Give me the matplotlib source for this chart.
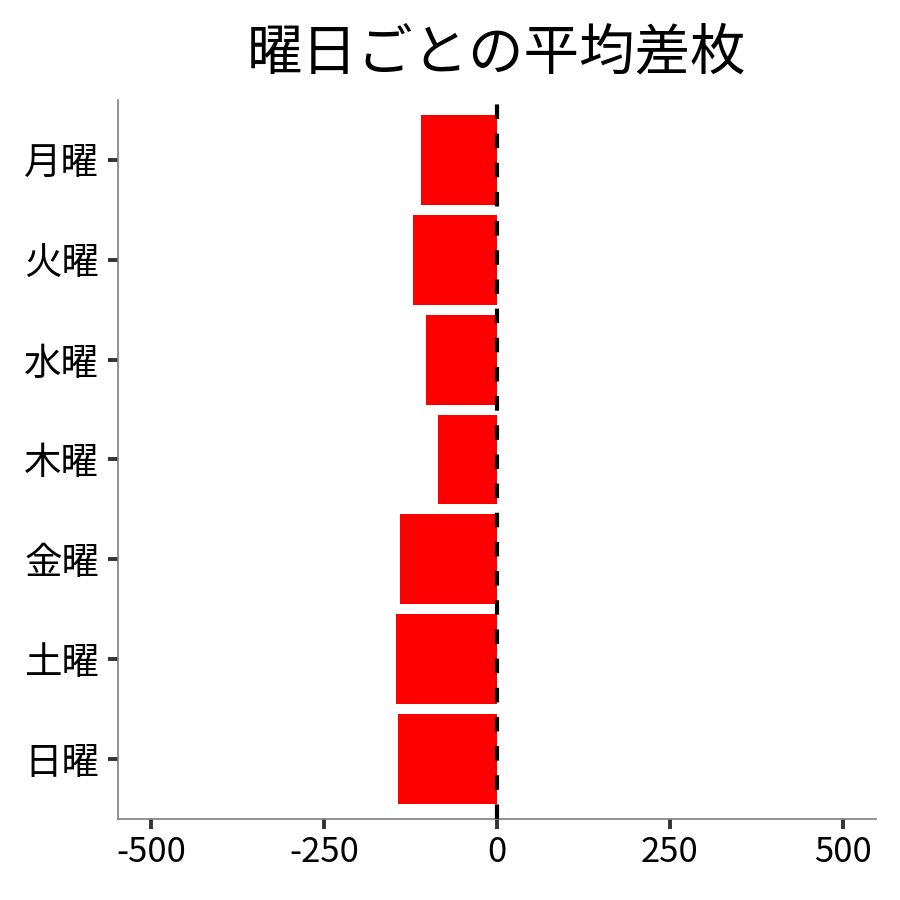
import numpy as np
import matplotlib
matplotlib.use("Agg")
import matplotlib.pyplot as plt

plt.rcParams['font.family'] = ['Noto Sans CJK JP', 'DejaVu Sans']

# data
days = ["月曜", "火曜", "水曜", "木曜", "金曜", "土曜", "日曜"]
avg_diff = [-110, -121, -103, -85, -140, -146, -143]
xticks = [-500, -250, 0, 250, 500]

fig = plt.figure(figsize=(9, 9), dpi=100)
ax = fig.add_axes([0.131, 0.09, 0.842, 0.799])

ypos = np.arange(len(days))
ax.barh(ypos, avg_diff, height=0.9, color='#FF0000', zorder=2)
ax.axvline(0, color='black', linewidth=3, linestyle=(0, (3.5, 3.5)), zorder=3)

ax.set_yticks(ypos)
ax.set_yticklabels(days)
ax.set_ylim(len(days) - 0.4, -0.6)
ax.set_xticks(xticks)
ax.set_xticklabels([str(v) for v in xticks])
ax.set_xlim(-548, 548)

ax.tick_params(axis='both', color='#333333', width=2.8, length=7.5,
               labelcolor='black')
ax.tick_params(axis='y', labelsize=27, pad=6)
ax.tick_params(axis='x', labelsize=25, pad=4)
for side in ['top', 'right']:
    ax.spines[side].set_visible(False)
for side in ['left', 'bottom']:
    ax.spines[side].set_color('#7f7f7f')
    ax.spines[side].set_linewidth(1.2)

ax.set_title("曜日ごとの平均差枚", fontsize=40, pad=22)

fig.savefig("out.png", dpi=100)
